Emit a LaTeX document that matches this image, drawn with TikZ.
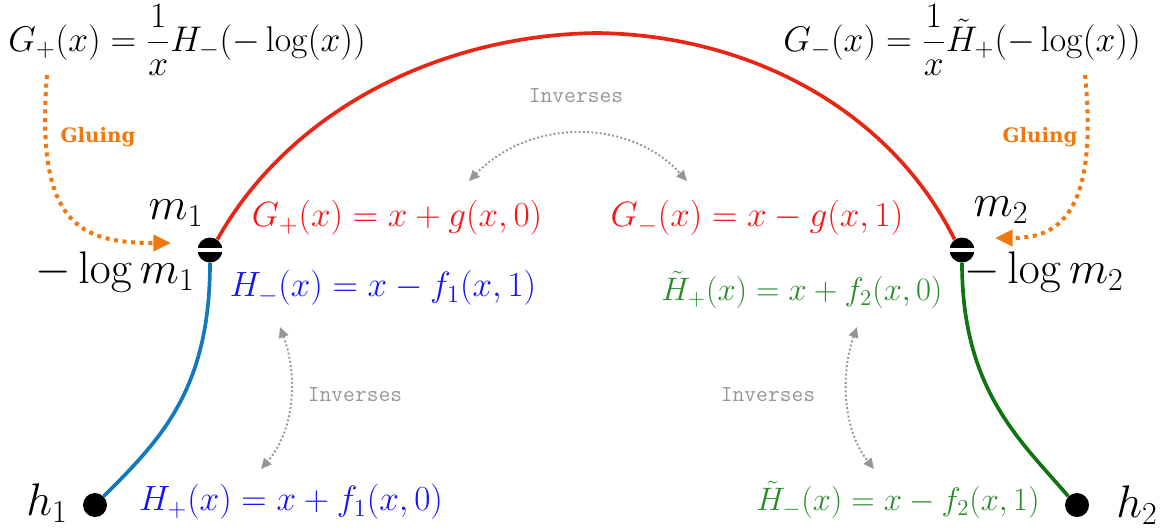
\RequirePackage{fix-cm}
\documentclass[tikz,border=0pt]{standalone}
\usepackage[no-math]{fontspec}
\newfontfamily\slabfont{DejaVu Serif}
\usetikzlibrary{arrows.meta}
\definecolor{arcred}{RGB}{232,38,22}
\definecolor{txtred}{RGB}{250,20,20}
\definecolor{arcblue}{RGB}{20,120,190}
\definecolor{txtblue}{RGB}{20,20,250}
\definecolor{arcgreen}{RGB}{16,116,16}
\definecolor{txtgreen}{RGB}{40,140,40}
\definecolor{glueorange}{RGB}{240,120,16}
\definecolor{invgray}{RGB}{150,150,150}
\begin{document}
\begin{tikzpicture}[x=0.02cm,y=-0.02cm,
  bigmath/.style={font=\fontsize{20.3}{24}\selectfont, inner sep=0pt},
  ptlabel/.style={font=\fontsize{26}{30}\selectfont, inner sep=0pt},
  colmath/.style={font=\fontsize{20}{24}\selectfont, inner sep=0pt},
  grnmath/.style={font=\fontsize{18.5}{22}\selectfont, inner sep=0pt, text=txtgreen},
  gluelabel/.style={font=\slabfont\bfseries\fontsize{11.3}{13}\selectfont, text=glueorange, inner sep=0pt},
  invlabel/.style={font=\ttfamily\fontsize{13}{15}\selectfont, text=invgray, inner sep=0pt},
  gluearrow/.style={glueorange, line width=2.3pt, dash pattern=on 2.3pt off 2.6pt, -{Triangle[length=10pt,width=9pt]}},
  invarrow/.style={invgray, line width=1.1pt, dash pattern=on 1.1pt off 1.3pt, {Triangle[length=6pt,width=5.5pt]}-{Triangle[length=6pt,width=5.5pt]}},
  curve/.style={line width=2.1pt},
  endpt/.style={circle, fill=black, minimum size=24*0.02cm, inner sep=0pt},
  glupt/.style={circle, fill=black, minimum size=25*0.02cm, inner sep=0pt}
]
\useasboundingbox (0,0) rectangle (1167,529);

% points
\node[glupt] (m1) at (210,250) {};
\node[glupt] (m2) at (962,250) {};
\node[endpt] (h1) at (95,505) {};
\node[endpt] (h2) at (1077,505) {};
\coordinate (top) at (597,33);

% curves
\draw[curve, arcred] (m1.55) .. controls (290,110) and (440,35) .. (top)
  .. controls (750,35) and (890,110) .. (m2.125);
\draw[curve, arcblue] (m1.south) .. controls (210,390) and (160,440) .. (h1.45);
\draw[curve, arcgreen] (m2.south) .. controls (962,390) and (1020,440) .. (h2.135);

% white bars across gluing points
\draw[white, line width=2pt] (m1.west) -- (m1.east);
\draw[white, line width=2pt] (m2.west) -- (m2.east);

% black labels
\node[bigmath] (gpl) at (187,40) {$\displaystyle G_+(x)=\frac{1}{x}H_-(-\log(x))$};
\node[bigmath] (gmr) at (962,40) {$\displaystyle G_-(x)=\frac{1}{x}\tilde H_+(-\log(x))$};
\node[ptlabel] (m1lab) at (176,213) {$m_1$};
\node[ptlabel] (m2lab) at (1001,210) {$m_2$};
\node[ptlabel] (lm1) at (115,272) {$-\log m_1$};
\node[ptlabel] (lm2) at (1044,272) {$-\log m_2$};
\node[ptlabel] (h1lab) at (47,503) {$h_1$};
\node[ptlabel] (h2lab) at (1137,505) {$h_2$};

% coloured formulas
\node[colmath, text=txtred] (gp) at (397,218) {$G_+(x)=x+g(x,0)$};
\node[colmath, text=txtred] (gm) at (757,218) {$G_-(x)=x-g(x,1)$};
\node[colmath, text=txtblue] (hm) at (383,288) {$H_-(x)=x-f_1(x,1)$};
\node[colmath, text=txtblue] (hp) at (291,502) {$H_+(x)=x+f_1(x,0)$};
\node[grnmath] (thp) at (802,290) {$\tilde H_+(x)=x+f_2(x,0)$};
\node[grnmath] (thm) at (898,500) {$\tilde H_-(x)=x-f_2(x,1)$};

% gluing
\node[gluelabel] (gl1) at (98,137) {Gluing};
\node[gluelabel] (gl2) at (1040,137) {Gluing};
\coordinate (gs1) at (47,75);
\coordinate (gs2) at (1085,75);
\coordinate (ge1) at (171,243);
\coordinate (ge2) at (995,238);
\draw[gluearrow] (gs1) .. controls (35,225) and (80,243) .. (ge1);
\draw[gluearrow] (gs2) .. controls (1100,225) and (1050,238) .. (ge2);

% inverses
\node[invlabel] (inv1) at (576,96) {Inverses};
\node[invlabel] (inv2) at (355,395) {Inverses};
\node[invlabel] (inv3) at (768,395) {Inverses};
\coordinate (ia1) at (469,181);
\coordinate (ia2) at (687,181);
\coordinate (ib1) at (280,327);
\coordinate (ib2) at (261,469);
\coordinate (ic1) at (857,327);
\coordinate (ic2) at (874,469);
\draw[invarrow] (ia1) .. controls (530,118) and (630,118) .. (ia2);
\draw[invarrow] (ib1) .. controls (298,375) and (295,430) .. (ib2);
\draw[invarrow] (ic1) .. controls (840,375) and (843,430) .. (ic2);
\end{tikzpicture}
\end{document}
